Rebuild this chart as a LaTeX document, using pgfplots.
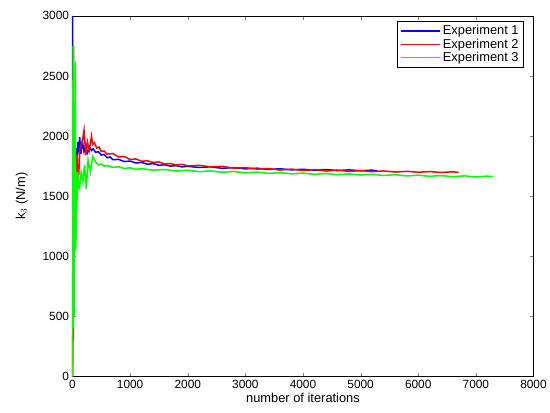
\documentclass[border=0pt]{standalone}
\usepackage{fontspec}
\setmainfont{Liberation Sans}
\usepackage{pgfplots}
\pgfplotsset{compat=1.18}

\definecolor{expblue}{RGB}{0,0,255}
\definecolor{expred}{RGB}{255,0,0}
\definecolor{expgreen}{RGB}{0,255,0}

\begin{document}
\begin{tikzpicture}[x=1bp,y=1bp]
\begin{axis}[
  scale only axis, width=464bp, height=363bp,
  xmin=0, xmax=8000, ymin=0, ymax=3000,
  xtick={0,1000,...,8000}, ytick={0,500,...,3000},
  scaled ticks=false,
  /pgf/number format/.cd, set thousands separator={}, assume math mode=true, /pgfplots/.cd,
  tick align=inside, major tick length=4bp,
  xtick pos=both, ytick pos=both,
  tick label style={font=\fontsize{12}{13}\selectfont},
  label style={font=\fontsize{13}{14}\selectfont},
  xlabel={number of iterations},
  ylabel={k$_3$ (N/m)},
  xlabel style={yshift=2bp},
  ylabel style={yshift=8bp},
  axis line style={black, line width=0.5pt},
  legend style={at={(0.978,0.986)}, anchor=north east, draw=black, line width=0.5pt,
    font=\fontsize{13}{14}\selectfont, row sep=-1.5pt, inner sep=2.5pt,
    /tikz/every even column/.append style={column sep=2bp}},
  legend cell align=left,
  clip=false,
]
\addplot[expblue, line width=1.5pt, forget plot] coordinates {
(0,3000)(4,2400)(8,1500)(14,1900)(22,1550)(30,1880)(45,1600)(60,1900)(75,1720)(90,1950)(110,1890)(125,1990)(145,1850)(170,1960)(200,1870)(230,1930)(260,1860)
(300,1905)(330,1880)(360,1895)(400,1865)(450,1870)(500,1842)(550,1848)(600,1820)(650,1826)(700,1804)(800,1806)(900,1788)(1000,1792)(1100,1776)(1200,1781)(1300,1766)(1400,1771)(1500,1757)(1600,1761)(1700,1750)(1800,1754)(1900,1744)(2000,1748)(2200,1739)(2400,1744)(2600,1732)(2800,1738)(3000,1727)(3200,1733)(3400,1722)(3600,1728)(3800,1719)(4000,1724)(4200,1716)(4400,1722)(4600,1713)(4800,1719)(5000,1711)(5200,1717)(5300,1708)};
\addplot[expred, line width=1.5pt, forget plot] coordinates {
(0,0)(3,350)(6,100)(10,1100)(14,300)(18,2750)(24,1200)(30,1550)(45,1380)(60,1700)(80,1850)(100,1600)(130,1900)(170,1950)(200,2050)(230,1840)(260,1950)(290,1880)(330,2000)(350,1930)
(380,1945)(420,1900)(460,1908)(500,1872)(550,1876)(600,1850)(700,1855)(800,1826)(900,1830)(1000,1805)(1100,1810)(1200,1790)(1300,1795)(1400,1780)(1500,1785)(1600,1767)(1700,1772)(1800,1759)(1900,1765)(2000,1752)(2200,1757)(2400,1744)(2600,1748)(2800,1733)(3000,1738)(3200,1725)(3400,1730)(3600,1717)(3800,1725)(4000,1714)(4200,1721)(4400,1709)(4600,1717)(4800,1706)(5000,1713)(5200,1704)(5400,1710)(5600,1701)(5800,1707)(6000,1699)(6200,1705)(6400,1697)(6600,1703)(6700,1698)};
\addplot[expgreen, line width=1.5pt, forget plot] coordinates {
(0,0)(5,1000)(9,2750)(14,400)(20,2200)(28,500)(36,1800)(48,2620)(55,1050)(70,1300)(90,1700)(120,1550)(150,1700)(180,1620)(210,1760)(240,1560)(270,1800)(310,1700)(350,1830)
(400,1785)(450,1760)(500,1768)(550,1750)(600,1756)(700,1740)(800,1745)(900,1730)(1000,1736)(1100,1723)(1200,1729)(1400,1716)(1600,1722)(1800,1709)(2000,1716)(2200,1704)(2400,1710)(2600,1699)(2800,1705)(3000,1694)(3200,1700)(3400,1690)(3600,1695)(3800,1686)(4000,1692)(4200,1682)(4400,1688)(4600,1679)(4800,1685)(5000,1676)(5200,1682)(5400,1672)(5600,1679)(5800,1668)(6000,1675)(6200,1665)(6400,1672)(6600,1662)(6800,1669)(7000,1660)(7200,1667)(7300,1662)};
\addlegendimage{legend image code/.code={\draw[draw=expblue, line width=1.2pt] (0bp,0bp) -- (40bp,0bp);}}
\addlegendentry{Experiment 1}
\addlegendimage{legend image code/.code={\draw[draw=expred, line width=1.2pt] (0bp,0bp) -- (40bp,0bp);}}
\addlegendentry{Experiment 2}
\addlegendimage{legend image code/.code={\draw[draw=expgreen, line width=1.2pt] (0bp,0bp) -- (40bp,0bp);}}
\addlegendentry{Experiment 3}
\path (axis description cs:-0.1573,-0.0992) rectangle (axis description cs:1.028,1.044);
\end{axis}
\end{tikzpicture}
\end{document}
